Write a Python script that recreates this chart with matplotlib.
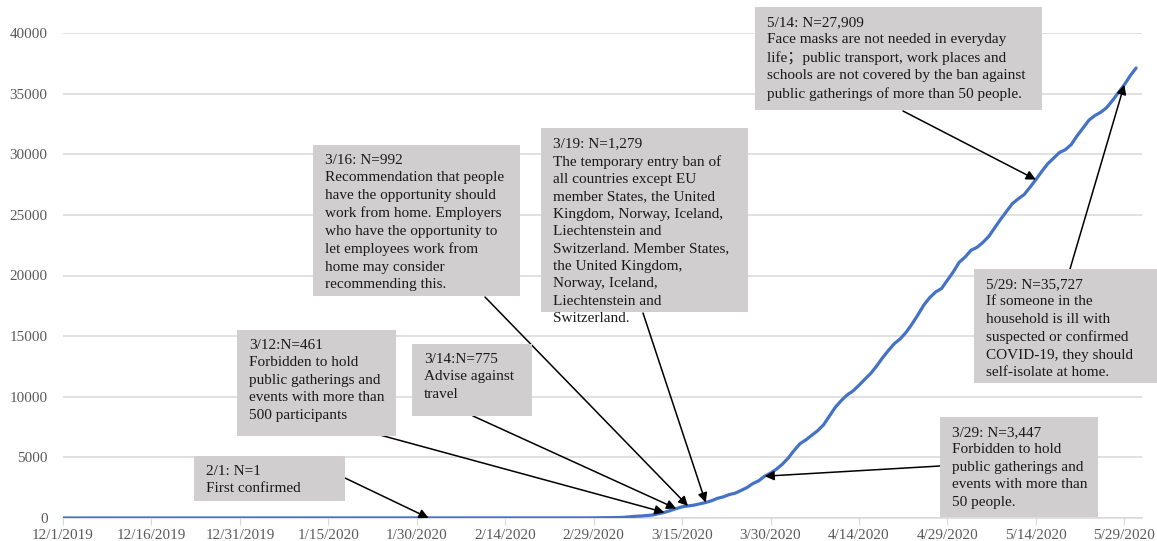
import datetime as dt
import matplotlib
matplotlib.use("Agg")
import matplotlib.pyplot as plt
from matplotlib.patches import Rectangle

plt.rcParams['font.family'] = ['Liberation Serif', 'Noto Sans CJK SC']

# cumulative confirmed cases, one value per day from 12/1/2019
start = dt.date(2019, 12, 1)
cases = [
    # Dec 2019
    0, 0, 0, 0, 0, 0, 0, 0, 0, 0, 0, 0, 0, 0, 0, 0,
    0, 0, 0, 0, 0, 0, 0, 0, 0, 0, 0, 0, 0, 0, 0,
    # Jan 2020
    0, 0, 0, 0, 0, 0, 0, 0, 0, 0, 0, 0, 0, 0, 0, 0,
    0, 0, 0, 0, 0, 0, 0, 0, 0, 0, 0, 0, 0, 0, 0,
    # Feb
    1, 1, 1, 1, 1, 1, 1, 1, 1, 1, 1, 1, 1, 1, 1,
    1, 1, 1, 1, 1, 1, 1, 1, 1, 1, 2, 7, 7, 12,
    # Mar
    14, 15, 21, 35, 52, 94, 137, 161, 203, 248, 355, 461, 620, 775, 924, 992,
    1060, 1167, 1279, 1423, 1623, 1746, 1934, 2046, 2272, 2510, 2840, 3069,
    3447, 3700, 4028,
    # Apr
    4435, 4947, 5568, 6131, 6443, 6830, 7206, 7693, 8419, 9141, 9685, 10151,
    10483, 10948, 11445, 11927, 12540, 13216, 13822, 14385, 14777, 15322,
    16004, 16755, 17567, 18177, 18640, 18926, 19621, 20302,
    # May
    21092, 21520, 22082, 22317, 22721, 23216, 23918, 24623, 25265, 25921,
    26322, 26670, 27272, 27909, 28582, 29207, 29677, 30143, 30377, 30799,
    31523, 32172, 32809, 33188, 33459, 33843, 34440, 35088, 35727, 36476,
    37113,
]
dates = [start + dt.timedelta(days=i) for i in range(len(cases))]

tick_labels = ["12/1/2019", "12/16/2019", "12/31/2019", "1/15/2020", "1/30/2020",
               "2/14/2020", "2/29/2020", "3/15/2020", "3/30/2020", "4/14/2020",
               "4/29/2020", "5/14/2020", "5/29/2020"]
y_ticks = [0, 5000, 10000, 15000, 20000, 25000, 30000, 35000, 40000]

event_dates = ["2/1/2020", "3/12/2020", "3/14/2020", "3/16/2020",
               "3/19/2020", "3/29/2020", "5/14/2020", "5/29/2020"]
event_n = [1, 461, 775, 992, 1279, 3447, 27909, 35727]
event_texts = [
    "2/1: N=1\nFirst confirmed",
    "3/12:N=461\nForbidden to hold\npublic gatherings and\nevents with more than\n500 participants",
    "3/14:N=775\nAdvise against\ntravel",
    "3/16: N=992\nRecommendation that people\nhave the opportunity should\nwork from home. Employers\n"
    "who have the opportunity to\nlet employees work from\nhome may consider\nrecommending this.",
    "3/19: N=1,279\nThe temporary entry ban of\nall countries except EU\nmember States, the United\n"
    "Kingdom, Norway, Iceland,\nLiechtenstein and\nSwitzerland. Member States,\n"
    "the United Kingdom,\nNorway, Iceland,\nLiechtenstein and\nSwitzerland.",
    "3/29: N=3,447\nForbidden to hold\npublic gatherings and\nevents with more than\n50 people.",
    "5/14: N=27,909\nFace masks are not needed in everyday\nlife；public transport, work places and\n"
    "schools are not covered by the ban against\npublic gatherings of more than 50 people.",
    "5/29: N=35,727\nIf someone in the\nhousehold is ill with\nsuspected or confirmed\n"
    "COVID-19, they should\nself-isolate at home.",
]

# box layout in pixels (left, top, right, bottom) and arrow start points
W, H = 1157, 541
boxes = [(194, 456, 345, 501), (237, 330, 396, 436), (412, 344, 532, 416),
         (313, 145, 520, 296), (541, 128, 748, 312), (940, 417, 1098, 517),
         (755, 7, 1042, 110), (974, 269, 1160, 383)]
arrow_from = [(345, 478), (380, 435), (473, 416), (485, 297),
              (643, 313), (940, 466), (903, 111), (1070, 269)]


def fx(x):
    return x / W


def fy(y):
    return 1 - y / H


def parse(s):
    return dt.datetime.strptime(s, "%m/%d/%Y").date()


fig = plt.figure(figsize=(11.57, 5.41), dpi=100)
ax = fig.add_axes([63 / W, 1 - 518 / H, 1079 / W, 485 / H])

ax.plot(dates, cases, color='#4472C4', lw=2.3, zorder=3, solid_capstyle='round')

ax.set_xlim(start, dt.date(2020, 6, 1))
ax.set_ylim(0, 40000)
ax.set_xticks([parse(s) for s in tick_labels])
ax.set_xticklabels(tick_labels)
ax.set_yticks(y_ticks)
ax.set_yticklabels([str(v) for v in y_ticks])
ax.grid(axis='y', color='#D9D9D9', lw=1.1)
ax.set_axisbelow(True)
for side in ['top', 'right', 'left']:
    ax.spines[side].set_visible(False)
ax.spines['bottom'].set_color('#D9D9D9')
ax.spines['bottom'].set_linewidth(1.1)
ax.tick_params(axis='x', length=5, color='#D9D9D9', labelcolor='#595959',
               labelsize=10.9, pad=3)
ax.tick_params(axis='y', length=0, labelcolor='#595959', labelsize=10.9, pad=11)

for d, n, txt, b, a in zip(event_dates, event_n, event_texts, boxes, arrow_from):
    x0, y0, x1, y1 = b
    ax.add_patch(Rectangle((fx(x0), fy(y1)), fx(x1) - fx(x0), fy(y0) - fy(y1),
                           transform=fig.transFigure, facecolor='#D0CECE',
                           edgecolor='none', clip_on=False, zorder=5))
    ax.text(fx(x0 + 12), fy(y0 + 9), txt, transform=fig.transFigure,
            ha='left', va='top', fontsize=11, color='#1a1a1a',
            linespacing=1.44, zorder=6, clip_on=False)
    ax.annotate('', xy=(parse(d), n), xycoords='data',
                xytext=(fx(a[0]), fy(a[1])), textcoords='figure fraction',
                arrowprops=dict(arrowstyle='-|>', color='black', lw=1.1,
                                mutation_scale=14, shrinkA=0, shrinkB=0),
                zorder=4)

fig.savefig('out.png', dpi=100)
